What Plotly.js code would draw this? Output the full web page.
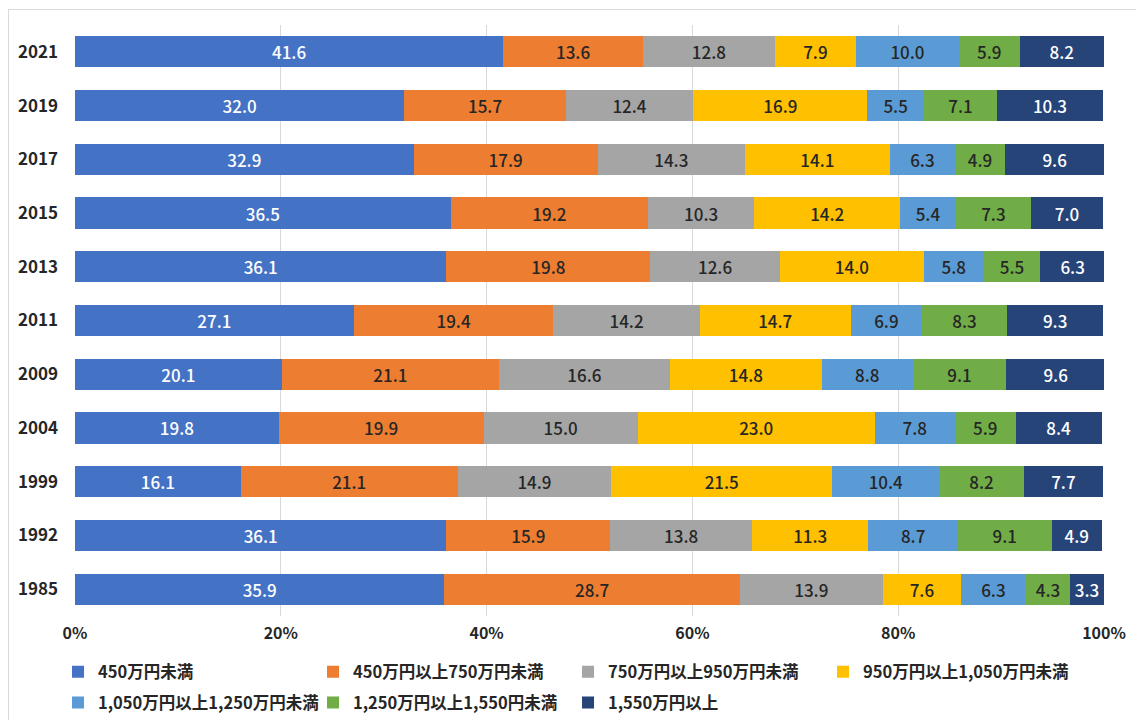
<!DOCTYPE html>
<html>
<head>
<meta charset="utf-8">
<script src="https://cdn.plot.ly/plotly-3.0.1.min.js"></script>
<style>
  html, body { margin: 0; padding: 0; background: #ffffff; }
  #wrap { position: relative; width: 1136px; height: 720px; overflow: hidden; }
  #frame { position: absolute; left: 8px; top: 9px; width: 1200px; height: 800px; border: 1px solid #d9d9d9; box-sizing: border-box; pointer-events: none; }
  #chart { position: absolute; left: 0; top: 0; width: 1136px; height: 720px; }
</style>
</head>
<body>
<div id="wrap">
  <div id="frame"></div>
  <div id="chart"></div>
</div>
<script>
// Categories (bottom to top)
const years = ["1985", "1992", "1999", "2004", "2009", "2011", "2013", "2015", "2017", "2019", "2021"];

// Series names
const seriesNames = [
  "450万円未満",
  "450万円以上750万円未満",
  "750万円以上950万円未満",
  "950万円以上1,050万円未満",
  "1,050万円以上1,250万円未満",
  "1,250万円以上1,550円未満",
  "1,550万円以上"
];

// Series values (%), in the same order as years
const under450   = [35.9, 36.1, 16.1, 19.8, 20.1, 27.1, 36.1, 36.5, 32.9, 32.0, 41.6];
const r450to750  = [28.7, 15.9, 21.1, 19.9, 21.1, 19.4, 19.8, 19.2, 17.9, 15.7, 13.6];
const r750to950  = [13.9, 13.8, 14.9, 15.0, 16.6, 14.2, 12.6, 10.3, 14.3, 12.4, 12.8];
const r950to1050 = [7.6, 11.3, 21.5, 23.0, 14.8, 14.7, 14.0, 14.2, 14.1, 16.9, 7.9];
const r1050to1250= [6.3, 8.7, 10.4, 7.8, 8.8, 6.9, 5.8, 5.4, 6.3, 5.5, 10.0];
const r1250to1550= [4.3, 9.1, 8.2, 5.9, 9.1, 8.3, 5.5, 7.3, 4.9, 7.1, 5.9];
const over1550   = [3.3, 4.9, 7.7, 8.4, 9.6, 9.3, 6.3, 7.0, 9.6, 10.3, 8.2];

const xTickVals = [0, 20, 40, 60, 80, 100];

const seriesValues = [under450, r450to750, r750to950, r950to1050, r1050to1250, r1250to1550, over1550];
const colors = ["#4472C4", "#ED7D31", "#A5A5A5", "#FFC000", "#5B9BD5", "#70AD47", "#264478"];
const textColors = ["#ffffff", "#262626", "#262626", "#262626", "#262626", "#262626", "#ffffff"];
const legendIds = ["legend", "legend", "legend", "legend", "legend2", "legend2", "legend2"];

const FONT = '"Noto Sans CJK JP", "Noto Sans", sans-serif';

const traces = seriesValues.map((vals, i) => ({
  type: "bar",
  orientation: "h",
  name: seriesNames[i],
  y: years,
  x: vals,
  text: vals.map(v => v.toFixed(1)),
  texttemplate: "%{text}",
  textposition: "inside",
  insidetextanchor: "middle",
  textangle: 0,
  insidetextfont: { family: FONT, size: 17, color: textColors[i], weight: 500 },
  marker: { color: colors[i], line: { width: 0 } },
  legend: legendIds[i],
  hoverinfo: "name+x"
}));

const legendCommon = {
  orientation: "h",
  xanchor: "left",
  yanchor: "middle",
  font: { family: FONT, size: 16.5, color: "#262626", weight: "bold" },
  entrywidth: 210,
  entrywidthmode: "pixels",
  itemwidth: 30,
  bgcolor: "rgba(0,0,0,0)",
  traceorder: "normal"
};

const layout = {
  width: 1136,
  height: 720,
  margin: { l: 75, r: 32, t: 25, b: 104, autoexpand: false },
  paper_bgcolor: "rgba(0,0,0,0)",
  plot_bgcolor: "rgba(0,0,0,0)",
  barmode: "stack",
  bargap: 0.42,
  uniformtext: { minsize: 17, mode: "show" },
  font: { family: FONT, color: "#262626" },
  xaxis: {
    range: [0, 100],
    tickvals: xTickVals,
    ticktext: xTickVals.map(v => v + "%"),
    showgrid: true,
    gridcolor: "#d9d9d9",
    gridwidth: 1,
    zeroline: false,
    showline: false,
    ticks: "",
    ticklabelstandoff: 6,
    tickfont: { family: FONT, size: 16, color: "#262626", weight: "bold" },
    fixedrange: true
  },
  yaxis: {
    type: "category",
    categoryorder: "array",
    categoryarray: years,
    showgrid: false,
    zeroline: false,
    showline: false,
    ticks: "",
    ticklabelstandoff: 16,
    tickfont: { family: FONT, size: 17, color: "#262626", weight: "bold" },
    fixedrange: true
  },
  legend: Object.assign({}, legendCommon, { x: -0.0165, y: -0.0948 }),
  legend2: Object.assign({}, legendCommon, { x: -0.0165, y: -0.147 }),
  showlegend: true
};

Plotly.newPlot("chart", traces, layout, { displayModeBar: false, responsive: false });
</script>
</body>
</html>
